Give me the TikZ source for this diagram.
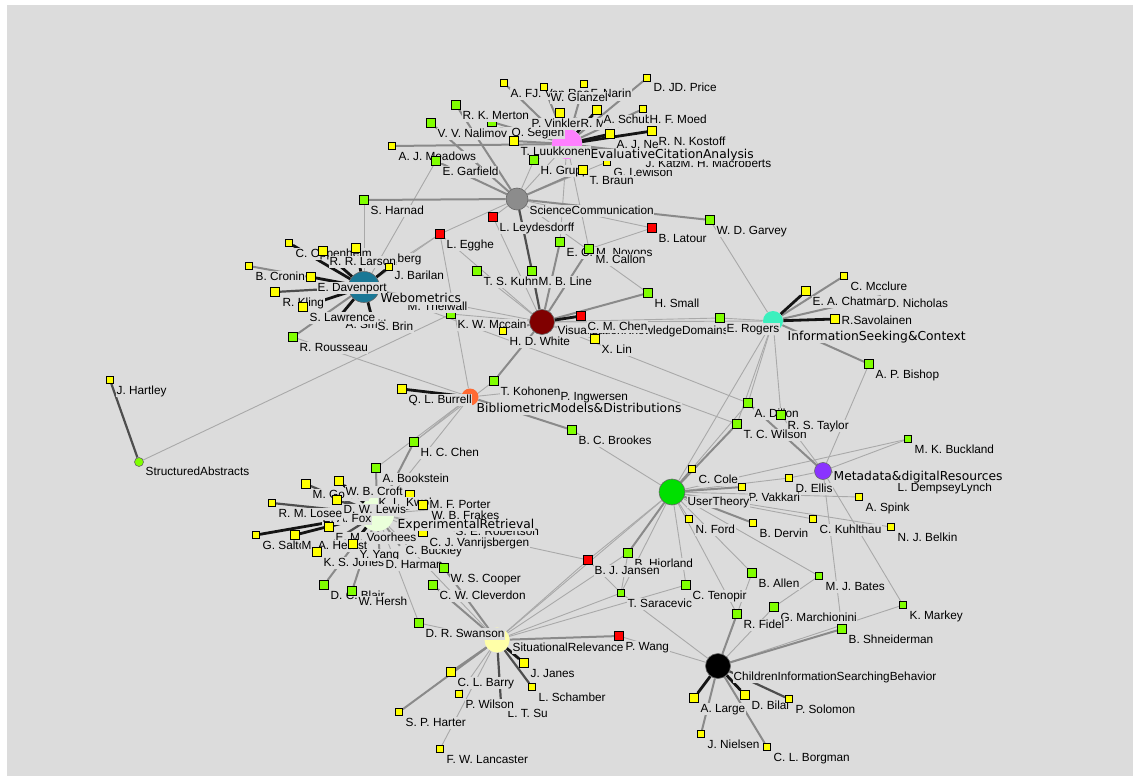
\documentclass[tikz,border=0pt]{standalone}
\usepackage{fontspec}
\setmainfont{Liberation Sans}
\newfontfamily\dvs{DejaVu Sans}
\definecolor{bg}{HTML}{DCDCDC}
\definecolor{yel}{HTML}{FFFF00}
\definecolor{grn}{HTML}{80FF00}
\definecolor{rd}{HTML}{FF0000}
\definecolor{cSC}{HTML}{8C8C8C}
\definecolor{cECA}{HTML}{FF80FF}
\definecolor{cWEB}{HTML}{1A7896}
\definecolor{cVKD}{HTML}{800000}
\definecolor{cISC}{HTML}{3CF0BE}
\definecolor{cBIB}{HTML}{FF6A33}
\definecolor{cUT}{HTML}{00E000}
\definecolor{cMETA}{HTML}{8A33FF}
\definecolor{cEXP}{HTML}{EAFFDA}
\definecolor{cSIT}{HTML}{FFFFA8}
\definecolor{ce1}{HTML}{A9A9A9}
\definecolor{ce2}{HTML}{8A8A8A}
\definecolor{ce3}{HTML}{4E4E4E}
\definecolor{ce4}{HTML}{141414}
\pgfdeclarelayer{background}
\pgfdeclarelayer{edges}
\pgfsetlayers{background,edges,main}
\tikzset{
  sqbase/.style={rectangle, draw=black, line width=0.8pt, inner sep=0pt},
  ys/.style={sqbase, fill=yel, minimum size=9pt},
  yss/.style={sqbase, fill=yel, minimum size=7pt},
  gs/.style={sqbase, fill=grn, minimum size=9pt},
  gss/.style={sqbase, fill=grn, minimum size=7pt},
  rs/.style={sqbase, fill=rd, minimum size=9pt},
  hid/.style={inner sep=0pt, minimum size=0pt},
  hub/.style={circle, draw=black!60, line width=0.6pt, inner sep=0pt},
  lab/.style={anchor=base west, fill=bg, inner xsep=0.5pt, inner ysep=0pt,
    text height=9pt, text depth=2.5pt, font=\fontsize{11.8}{13}\selectfont},
  dlab/.style={lab, font=\dvs\fontsize{12.3}{14}\selectfont},
  e1/.style={draw=ce1, line width=0.9pt},
  e2/.style={draw=ce2, line width=2pt},
  e3/.style={draw=ce3, line width=2.2pt},
  e4/.style={draw=ce4, line width=2.8pt},
}
\NewDocumentCommand\au{m m m m o}{%
  \node[#2] (#1) at #3 {};
  \IfNoValueTF{#5}
    {\node[lab] (#1l) at ([shift={(6,14)}]#1.center) {#4};}
    {\node[lab] (#1l) at #5 {#4};}%
}
\begin{document}
\begin{tikzpicture}[x=1pt,y=-1pt]
\begin{pgfonlayer}{background}
\path[fill=white] (0,0) rectangle (1133,776);
\path[fill=bg] (7,5) rectangle (1133,776);
\end{pgfonlayer}
\useasboundingbox (0,0) rectangle (1133,776);

% hubs
\node[hub, fill=cSC, minimum size=22pt] (sc) at (517,199) {};
\node[hub, fill=cECA, draw=none, minimum size=30pt] (eca) at (567,144) {};
\node[hub, fill=cWEB, minimum size=31pt] (web) at (364,287) {};
\node[hub, fill=cVKD, minimum size=25pt] (vkd) at (542,322) {};
\node[hub, fill=cISC, draw=none, minimum size=20pt] (isc) at (773,321) {};
\node[hub, fill=cBIB, draw=none, minimum size=17pt] (bib) at (470,397) {};
\node[hub, fill=grn, minimum size=9pt] (sab) at (139,462) {};
\node[hub, fill=cUT, minimum size=26pt] (ut) at (672,492) {};
\node[hub, fill=cMETA, minimum size=17pt] (meta) at (823,471) {};
\node[hub, fill=cEXP, draw=none, minimum size=34pt] (exp) at (377,514) {};
\node[hub, fill=cSIT, draw=none, minimum size=25pt] (sit) at (497,640) {};
\node[hub, fill=black, minimum size=25pt] (chi) at (718,666) {};
\node[lab] (vkdl) at (557,334) {VisualizationKnowledgeDomains};

% top cluster
\au{vanraan}{yss}{(504,83)}{A. FJ. Van Raan}
\au{narin}{yss}{(584,84)}{F. Narin}
\au{glanzel}{yss}{(544,87)}{W. Glanzel}
\au{price}{yss}{(647,78)}{D. JD. Price}
\au{seglen}{gs}{(492,122)}{P. O. Seglen}
\au{merton}{gs}{(456,105)}{R. K. Merton}
\au{nalimov}{gs}{(431,123)}{V. V. Nalimov}
\au{vinkler}{ys}{(560,113)}{P. Vinkler}[(531,127)]
\au{martin}{hid}{(578,118)}{R. Martin}[(580,127)]
\au{schubert}{ys}{(597,110)}{A. Schubert}
\au{moed}{yss}{(643,109)}{H. F. Moed}
\au{nederhof}{ys}{(610,134)}{A. J. Nederhof}
\au{kostoff}{ys}{(652,131)}{R. N. Kostoff}
\au{luukkonen}{ys}{(514,141)}{T. Luukkonen}
\au{meadows}{yss}{(392,146)}{A. J. Meadows}
\au{garfield}{gs}{(436,161)}{E. Garfield}
\au{lewison}{yss}{(607,162)}{G. Lewison}
\au{katz}{hid}{(640,157)}{J. Katz}[(645,167)]
\au{macroberts}{hid}{(676,157)}{M. H. Macroberts}[(680,167)]
\au{grupp}{gs}{(534,160)}{H. Grupp}
\au{braun}{ys}{(583,170)}{T. Braun}
\au{harnad}{gs}{(364,200)}{S. Harnad}
\au{leydesdorff}{rs}{(493,217)}{L. Leydesdorff}
\au{latour}{rs}{(652,228)}{B. Latour}
\au{garvey}{gs}{(710,220)}{W. D. Garvey}
\au{egghe}{rs}{(440,234)}{L. Egghe}
\au{noyons}{gs}{(560,242)}{E. C. M. Noyons}
\au{callon}{gs}{(589,249)}{M. Callon}
\au{kuhn}{gs}{(477,271)}{T. S. Kuhn}
\au{mbline}{gs}{(532,271)}{M. B. Line}
\au{small}{gs}{(648,293)}{H. Small}
\au{mccain}{gs}{(451,314)}{K. W. Mccain}
\au{cmchen}{rs}{(581,316)}{C. M. Chen}
\au{xlin}{ys}{(595,339)}{X. Lin}
\au{hdwhite}{yss}{(503,331)}{H. D. White}
\au{rogers}{gs}{(720,318)}{E. Rogers}

% webometrics
\au{oppenheim}{yss}{(289,243)}{C. Oppenheim}
\au{berg}{ys}{(356,248)}{berg}[(397,262)]
\au{larson}{ys}{(323,251)}{R. R. Larson}
\au{barilan}{yss}{(389,267)}{J. Barilan}[(394,279)]
\au{cronin}{yss}{(249,266)}{B. Cronin}
\au{davenport}{ys}{(311,277)}{E. Davenport}[(317,291)]
\au{smith}{hid}{(340,316)}{A. Smith}[(345,328)]
\au{brin}{hid}{(372,318)}{S. Brin}[(377,330)]
\au{kling}{ys}{(275,292)}{R. Kling}[(282,306)]
\au{lawrence}{ys}{(303,307)}{S. Lawrence}[(309,321)]
\au{thelwall}{hid}{(402,298)}{M. Thelwall}[(407,310)]
\au{rousseau}{gs}{(293,337)}{R. Rousseau}

% information seeking
\au{mcclure}{yss}{(844,276)}{C. Mcclure}
\au{chatman}{ys}{(806,291)}{E. A. Chatman}
\au{nicholas}{hid}{(881,296)}{D. Nicholas}[(887,307)]
\au{savolainen}{ys}{(835,319)}{R.Savolainen}[(841,324)]
\au{bishop}{gs}{(869,364)}{A. P. Bishop}

% bibliometric
\au{kohonen}{gs}{(494,381)}{T. Kohonen}
\au{ingwersen}{hid}{(555,388)}{P. Ingwersen}[(560,400)]
\au{burrell}{ys}{(402,389)}{Q. L. Burrell}
\au{brookes}{gs}{(572,430)}{B. C. Brookes}
\au{hcchen}{gs}{(414,442)}{H. C. Chen}
\au{hartley}{yss}{(110,380)}{J. Hartley}

% experimental retrieval
\au{bookstein}{gs}{(376,468)}{A. Bookstein}
\au{gordon}{ys}{(306,484)}{M. Gordon}
\au{croft}{ys}{(339,481)}{W. B. Croft}
\au{kwok}{ys}{(410,495)}{K. L. Kwok}[(378,506)]
\au{porter}{ys}{(423,505)}{M. F. Porter}[(429,508)]
\au{frakes}{hid}{(428,510)}{W. B. Frakes}[(431,519)]
\au{lewis}{ys}{(337,500)}{D. W. Lewis}[(343,513)]
\au{fox}{hid}{(318,512)}{E. A. Fox}[(322,522)]
\au{losee}{yss}{(272,503)}{R. M. Losee}
\au{voorhees}{ys}{(329,527)}{E. M. Voorhees}
\au{salton}{yss}{(256,535)}{G. Salton}
\au{hearst}{ys}{(295,535)}{M. A. Hearst}
\au{jones}{ys}{(317,552)}{K. S. Jones}
\au{yang}{ys}{(353,544)}{Y. Yang}
\au{robertson}{hid}{(450,527)}{S. E. Robertson}[(455,535)]
\au{buckley}{hid}{(400,546)}{C. Buckley}[(405,554)]
\au{vanrijsbergen}{ys}{(423,532)}{C. J. Vanrijsbergen}
\au{harman}{hid}{(380,560)}{D. Harman}[(385,568)]
\au{blair}{gs}{(324,585)}{D. C. Blair}
\au{hersh}{gs}{(352,591)}{W. Hersh}

% situational relevance
\au{cooper}{gs}{(444,568)}{W. S. Cooper}
\au{cleverdon}{gs}{(433,585)}{C. W. Cleverdon}
\au{swanson}{gs}{(419,623)}{D. R. Swanson}
\au{janes}{ys}{(524,663)}{J. Janes}
\au{schamber}{yss}{(532,687)}{L. Schamber}
\au{barry}{ys}{(451,672)}{C. L. Barry}
\au{su}{hid}{(501,703)}{L. T. Su}[(507,717)]
\au{pwilson}{yss}{(459,694)}{P. Wilson}
\au{harter}{yss}{(399,712)}{S. P. Harter}
\au{lancaster}{yss}{(440,749)}{F. W. Lancaster}

% user theory, metadata, children
\au{dillon}{gs}{(748,403)}{A. Dillon}
\au{tcwilson}{gs}{(737,424)}{T. C. Wilson}
\au{taylor}{gs}{(781,415)}{R. S. Taylor}
\au{buckland}{gss}{(908,439)}{M. K. Buckland}
\au{cole}{yss}{(692,469)}{C. Cole}
\au{ellis}{yss}{(789,478)}{D. Ellis}
\au{vakkari}{yss}{(742,487)}{P. Vakkari}
\au{lynch}{hid}{(940,481)}{C. Lynch}[(945,491)]
\au{dempsey}{hid}{(892,481)}{L. Dempsey}[(897,491)]
\au{spink}{yss}{(859,497)}{A. Spink}
\au{ford}{yss}{(689,519)}{N. Ford}
\au{kuhlthau}{yss}{(813,519)}{C. Kuhlthau}
\au{dervin}{yss}{(753,523)}{B. Dervin}
\au{belkin}{yss}{(891,527)}{N. J. Belkin}
\au{hjorland}{gs}{(628,553)}{B. Hjorland}
\au{jansen}{rs}{(588,560)}{B. J. Jansen}
\au{allen}{gs}{(752,573)}{B. Allen}
\au{bates}{gss}{(819,576)}{M. J. Bates}
\au{tenopir}{gs}{(686,585)}{C. Tenopir}
\au{saracevic}{gss}{(621,593)}{T. Saracevic}
\au{markey}{gss}{(903,605)}{K. Markey}
\au{marchionini}{gs}{(774,607)}{G. Marchionini}
\au{fidel}{gs}{(737,614)}{R. Fidel}
\au{shneiderman}{gs}{(842,629)}{B. Shneiderman}
\au{wang}{rs}{(619,636)}{P. Wang}
\au{large}{ys}{(694,698)}{A. Large}
\au{bilal}{ys}{(745,695)}{D. Bilal}
\au{solomon}{yss}{(789,699)}{P. Solomon}
\au{nielsen}{yss}{(701,734)}{J. Nielsen}
\au{borgman}{yss}{(767,747)}{C. L. Borgman}

% hub labels
\node[lab] (scl) at (529,214) {ScienceCommunication};
\node[dlab] (ecal) at (590,158) {EvaluativeCitationAnalysis};
\node[dlab] (webl) at (380,302) {Webometrics};
\node[dlab] (iscl) at (787,340) {InformationSeeking\&Context};
\node[dlab] (bibl) at (476,412) {BibliometricModels\&Distributions};
\node[lab] (sabl) at (145,475) {StructuredAbstracts};
\node[lab] (utl) at (687,505) {UserTheory};
\node[dlab] (metal) at (833,480) {Metadata\&digitalResources};
\node[dlab] (expl) at (397,528) {ExperimentalRetrieval};
\node[lab] (sitl) at (512,651) {SituationalRelevance};
\node[lab] (chil) at (733,680) {ChildrenInformationSearchingBehavior};

% connectors
\begin{pgfonlayer}{edges}
\foreach \a/\b in {sc/leydesdorff, sc/egghe, garfield/web, sc/small, sc/latour, sc/eca, sc/grupp, sc/lewison,
  eca/noyons, eca/callon, latour/callon, garvey/isc, egghe/bib, egghe/web, egghe/barilan, egghe/vkd,
  leydesdorff/vkd, kuhn/vkd, mccain/vkd, xlin/vkd, vkd/rogers, vkd/isc, vkd/dillon, web/vkd,
  harnad/web, web/tcwilson, rousseau/bib, sab/mccain, kohonen/hcchen, ingwersen/bib, bib/bookstein, bib/exp, bib/hcchen,
  brookes/ut, rogers/isc, isc/dillon, isc/taylor, isc/tcwilson, isc/ut,
  taylor/meta, buckland/meta, buckland/ut, bishop/meta,
  ut/ellis, ut/spink, ut/kuhlthau, ut/belkin, ut/ford, ut/tenopir, ut/saracevic, ut/allen, ut/fidel, ut/bates, ut/jansen, ut/sit, ut/dillon,
  meta/lynch, meta/dempsey, meta/shneiderman, meta/markey, meta/ellis,
  chi/wang, chi/saracevic, chi/marchionini, chi/allen, chi/markey, marchionini/bates,
  sit/saracevic, sit/tenopir, sit/jansen, sit/hjorland, sit/lancaster, sit/pwilson, sit/swanson,
  jansen/saracevic, hjorland/saracevic,
  exp/jansen, exp/sit, exp/swanson, exp/vanrijsbergen, exp/robertson, exp/frakes, exp/fox}
  \draw[e1] (\a) -- (\b);
\foreach \a/\b in {sc/garfield, sc/nalimov, sc/merton, sc/braun, sc/garvey, sc/harnad,
  eca/vanraan, eca/glanzel, eca/narin, eca/price, eca/vinkler, eca/moed, eca/lewison, eca/katz, eca/macroberts, eca/meadows, eca/grupp, eca/luukkonen, eca/seglen,
  vkd/kohonen, vkd/small, vkd/hdwhite, vkd/noyons, vkd/callon,
  isc/mcclure, isc/nicholas, isc/bishop, bib/brookes,
  ut/tcwilson, ut/vakkari, ut/dervin, ut/hjorland, ut/cole, meta/dillon,
  chi/shneiderman, chi/nielsen, chi/borgman, chi/fidel,
  sit/cooper, sit/cleverdon, sit/barry, sit/harter, sit/wang,
  exp/blair, exp/hersh, exp/hcchen, exp/harman, exp/buckley, exp/bookstein,
  web/rousseau, web/cronin}
  \draw[e2] (\a) -- (\b);
\foreach \a/\b in {sc/mbline, mbline/vkd, chi/solomon, sit/schamber, sit/su,
  exp/gordon, exp/losee, exp/jones, exp/voorhees, exp/kwok, exp/lewis, web/kling, sab/hartley}
  \draw[e3] (\a) -- (\b);
\foreach \a/\b in {web/larson, web/oppenheim, web/davenport, web/lawrence, web/barilan, web/berg, web/smith, web/brin, web/thelwall,
  eca/nederhof, eca/kostoff, eca/schubert, eca/martin, isc/chatman, isc/savolainen, vkd/cmchen,
  chi/large, chi/bilal, sit/janes, exp/porter, exp/salton, exp/hearst, exp/yang, exp/croft, bib/burrell}
  \draw[e4] (\a) -- (\b);
\end{pgfonlayer}
\end{tikzpicture}
\end{document}
